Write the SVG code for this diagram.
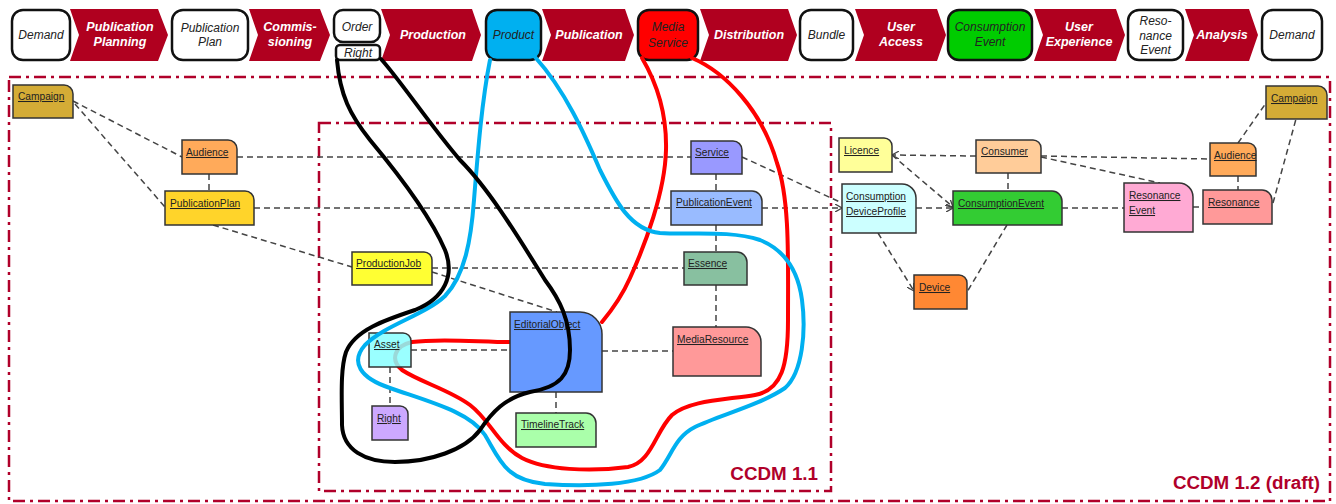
<svg xmlns="http://www.w3.org/2000/svg" width="1336" height="504" viewBox="0 0 1336 504">
<style>
.bg{fill:#ffffff}
.frame{fill:none;stroke:#B0002A;stroke-width:2.5;stroke-dasharray:12 5 3 5}
.arrow{fill:#B0001F}
.atxt{font-family:"Liberation Sans",Arial,sans-serif;font-size:12.5px;font-weight:bold;font-style:italic;fill:#ffffff;text-anchor:middle}
.box{stroke:#111111;stroke-width:2.5}
.btxt{font-family:"Liberation Sans",Arial,sans-serif;font-size:12px;font-style:italic;fill:#222222;text-anchor:middle}
.conn{fill:none;stroke:#444444;stroke-width:1.5;stroke-dasharray:6 4}
.node{stroke:#333333;stroke-width:1.5}
.ntxt{font-family:"Liberation Sans",Arial,sans-serif;font-size:10.2px;fill:#222222;text-decoration:underline}
.curve{fill:none;stroke-width:4;stroke-linecap:round;stroke-linejoin:round}
.label{font-family:"Liberation Sans",Arial,sans-serif;font-size:18.8px;font-weight:bold;fill:#B0002A;text-anchor:end}
</style>
<defs>
<marker id="open" viewBox="0 0 8 8" refX="7" refY="4" markerWidth="8" markerHeight="8" markerUnits="userSpaceOnUse" orient="auto">
<path d="M0,0 L7,4 L0,8" fill="none" stroke="#444444" stroke-width="1.3"/>
</marker>
</defs>
<rect class="bg" x="0" y="0" width="1336" height="504"/>

<g id="frames">
<rect class="frame" x="9" y="77" width="1321" height="424"/>
<rect class="frame" x="319" y="123" width="512" height="368"/>
</g>

<g id="process-bar">
<g id="step-publication-planning"><polygon class="arrow" points="70,9 158,9 168,35 158,61 70,61 79,35"/><text class="atxt" x="120" y="31">Publication</text><text class="atxt" x="120" y="46">Planning</text></g>
<g id="step-commissioning"><polygon class="arrow" points="249,9 320,9 330,35 320,61 249,61 258,35"/><text class="atxt" x="290" y="31">Commis-</text><text class="atxt" x="290" y="46">sioning</text></g>
<g id="step-production"><polygon class="arrow" points="381,9 472,9 481,35 472,61 381,61 390,35"/><text class="atxt" x="433" y="39">Production</text></g>
<g id="step-publication"><polygon class="arrow" points="542,9 625,9 634,35 625,61 542,61 551,35"/><text class="atxt" x="589" y="39">Publication</text></g>
<g id="step-distribution"><polygon class="arrow" points="700,9 788,9 797,35 788,61 700,61 709,35"/><text class="atxt" x="749" y="39">Distribution</text></g>
<g id="step-user-access"><polygon class="arrow" points="855,9 937,9 946,35 937,61 855,61 864,35"/><text class="atxt" x="901" y="31">User</text><text class="atxt" x="901" y="46">Access</text></g>
<g id="step-user-experience"><polygon class="arrow" points="1034,9 1116,9 1125,35 1116,61 1034,61 1043,35"/><text class="atxt" x="1079" y="31">User</text><text class="atxt" x="1079" y="46">Experience</text></g>
<g id="step-analysis"><polygon class="arrow" points="1185,9 1249,9 1258,35 1249,61 1185,61 1194,35"/><text class="atxt" x="1222" y="39">Analysis</text></g>

<g id="obj-demand-1"><rect class="box" x="12" y="10" width="58" height="50" rx="11" fill="#ffffff"/><text class="btxt" x="41" y="39">Demand</text></g>
<g id="obj-publication-plan"><rect class="box" x="172" y="10" width="76" height="50" rx="11" fill="#ffffff"/><text class="btxt" x="210" y="32">Publication</text><text class="btxt" x="210" y="46">Plan</text></g>
<g id="obj-order"><rect class="box" x="334" y="10" width="46" height="32" rx="9" fill="#ffffff"/><text class="btxt" x="357" y="31">Order</text></g>
<g id="obj-right"><rect class="box" x="336" y="45" width="44" height="15" rx="4" fill="#ffffff" stroke-width="2"/><text class="btxt" x="358" y="57">Right</text></g>
<g id="obj-product"><rect class="box" x="486" y="10" width="55" height="50" rx="11" fill="#00B0F0"/><text class="btxt" x="513.5" y="39">Product</text></g>
<g id="obj-media-service"><rect class="box" x="638" y="10" width="60" height="50" rx="11" fill="#FF0000"/><text class="btxt" x="668" y="31">Media</text><text class="btxt" x="668" y="47">Service</text></g>
<g id="obj-bundle"><rect class="box" x="800" y="10" width="53" height="50" rx="11" fill="#ffffff"/><text class="btxt" x="826.5" y="39">Bundle</text></g>
<g id="obj-consumption-event"><rect class="box" x="948" y="10" width="84" height="50" rx="11" fill="#00CC00"/><text class="btxt" x="990" y="31">Consumption</text><text class="btxt" x="990" y="46">Event</text></g>
<g id="obj-resonance-event"><rect class="box" x="1128" y="10" width="55" height="50" rx="11" fill="#ffffff"/><text class="btxt" x="1155.5" y="25" fill="#444444">Reso-</text><text class="btxt" x="1155.5" y="39.5" fill="#444444">nance</text><text class="btxt" x="1155.5" y="54" fill="#444444">Event</text></g>
<g id="obj-demand-2"><rect class="box" x="1262" y="10" width="60" height="50" rx="11" fill="#ffffff"/><text class="btxt" x="1292" y="39">Demand</text></g>
</g>

<g id="connectors">
<line class="conn" x1="73" y1="101" x2="182" y2="157"/>
<line class="conn" x1="75" y1="104" x2="165" y2="207"/>
<line class="conn" x1="209" y1="174" x2="209" y2="191"/>
<line class="conn" x1="237" y1="157" x2="691" y2="157"/>
<line class="conn" x1="254" y1="208" x2="671" y2="208"/>
<line class="conn" x1="762" y1="208" x2="842" y2="208" marker-end="url(#open)"/>
<line class="conn" x1="213" y1="225" x2="352" y2="267"/>
<line class="conn" x1="432" y1="272" x2="557" y2="312"/>
<line class="conn" x1="432" y1="268" x2="684" y2="268"/>
<line class="conn" x1="716" y1="174" x2="716" y2="191"/>
<line class="conn" x1="716" y1="225" x2="716" y2="252"/>
<line class="conn" x1="716" y1="285" x2="716" y2="327"/>
<line class="conn" x1="602" y1="351" x2="673" y2="351"/>
<line class="conn" x1="411" y1="350" x2="510" y2="350"/>
<line class="conn" x1="390" y1="367" x2="390" y2="406"/>
<line class="conn" x1="556" y1="392" x2="556" y2="413"/>
<line class="conn" x1="742" y1="157" x2="842" y2="203"/>
<line class="conn" x1="976" y1="156" x2="892" y2="155" marker-end="url(#open)"/>
<line class="conn" x1="892" y1="155" x2="953" y2="207" marker-end="url(#open)"/>
<line class="conn" x1="916" y1="208" x2="953" y2="208" marker-end="url(#open)"/>
<line class="conn" x1="1008" y1="173" x2="1008" y2="191"/>
<line class="conn" x1="1041" y1="156" x2="1210" y2="159"/>
<line class="conn" x1="1041" y1="157" x2="1160" y2="183"/>
<line class="conn" x1="1062" y1="208" x2="1124" y2="208"/>
<line class="conn" x1="1193" y1="207" x2="1203" y2="207"/>
<line class="conn" x1="1238" y1="176" x2="1238" y2="190"/>
<line class="conn" x1="1238" y1="143" x2="1266" y2="103"/>
<line class="conn" x1="1273" y1="203" x2="1296" y2="119"/>
<line class="conn" x1="878" y1="233" x2="914" y2="291" marker-end="url(#open)"/>
<line class="conn" x1="1007" y1="225" x2="967" y2="292"/>
</g>

<g id="media-service-scope">
<path class="curve" stroke="#FF0000" d="M642,58 C655,80 667,110 666,150 C665,192 645,245 630,278 C622,296 612,310 602,322"/>
<path class="curve" stroke="#FF0000" d="M692,58 C725,72 762,110 777,163 C790,200 788,260 788,320 C788,365 782,390 755,395 C725,400 690,400 672,415 C655,432 652,462 628,467 C590,472 545,470 522,458 C498,445 490,420 470,405 C450,390 420,382 402,370 C390,360 394,346 412,342 C440,338 480,342 510,342"/>
</g>

<g id="nodes">
<g id="n-campaign-1"><path class="node" fill="#D4AC36" d="M13,85 H64 A9,9 0 0 1 73,94 V118 H13 Z"/><text class="ntxt" x="18" y="100">Campaign</text></g>
<g id="n-audience-1"><path class="node" fill="#FFAA5A" d="M182,140 H228 A9,9 0 0 1 237,149 V174 H182 Z"/><text class="ntxt" x="186" y="156">Audience</text></g>
<g id="n-publicationplan"><path class="node" fill="#FFD42A" d="M165,191 H245 A9,9 0 0 1 254,200 V225 H165 Z"/><text class="ntxt" x="170" y="207">PublicationPlan</text></g>
<g id="n-service"><path class="node" fill="#9999FF" d="M691,141 H733 A9,9 0 0 1 742,150 V174 H691 Z"/><text class="ntxt" x="695" y="156">Service</text></g>
<g id="n-publicationevent"><path class="node" fill="#99BBFF" d="M671,191 H752 A10,10 0 0 1 762,201 V225 H671 Z"/><text class="ntxt" x="676" y="206">PublicationEvent</text></g>
<g id="n-productionjob"><path class="node" fill="#FFFF33" d="M352,252 H424 A8,8 0 0 1 432,260 V285 H352 Z"/><text class="ntxt" x="356" y="267">ProductionJob</text></g>
<g id="n-essence"><path class="node" fill="#88C0A0" d="M684,252 H737 A10,10 0 0 1 747,262 V285 H684 Z"/><text class="ntxt" x="688" y="267">Essence</text></g>
<g id="n-editorialobject"><path class="node" fill="#6699FF" d="M510,312 H580 A22,22 0 0 1 602,334 V392 H510 Z"/><text class="ntxt" x="514" y="328">EditorialObject</text></g>
<g id="n-asset"><path class="node" fill="#88FFFF" fill-opacity="0.85" d="M369,333 H403 A8,8 0 0 1 411,341 V367 H369 Z"/><text class="ntxt" x="374" y="348">Asset</text></g>
<g id="n-right"><path class="node" fill="#CCA8FF" d="M372,406 H400 A8,8 0 0 1 408,414 V440 H372 Z"/><text class="ntxt" x="377" y="422">Right</text></g>
<g id="n-timelinetrack"><path class="node" fill="#AAFFAA" d="M516,413 H586 A10,10 0 0 1 596,423 V447 H516 Z"/><text class="ntxt" x="521" y="428">TimelineTrack</text></g>
<g id="n-mediaresource"><path class="node" fill="#FF9999" d="M673,327 H746 A15,15 0 0 1 761,342 V376 H673 Z"/><text class="ntxt" x="677" y="343">MediaResource</text></g>
<g id="n-licence"><path class="node" fill="#FFFF99" d="M839,138 H884 A8,8 0 0 1 892,146 V172 H839 Z"/><text class="ntxt" x="844" y="154">Licence</text></g>
<g id="n-consumer"><path class="node" fill="#FFCC99" d="M976,140 H1033 A8,8 0 0 1 1041,148 V173 H976 Z"/><text class="ntxt" x="981" y="155">Consumer</text></g>
<g id="n-consumptiondeviceprofile"><path class="node" fill="#CCFFFF" d="M842,184 H902 A14,14 0 0 1 916,198 V233 H842 Z"/><text class="ntxt" x="846" y="200">Consumption</text><text class="ntxt" x="846" y="215">DeviceProfile</text></g>
<g id="n-consumptionevent"><path class="node" fill="#33CC33" d="M953,191 H1052 A10,10 0 0 1 1062,201 V225 H953 Z"/><text class="ntxt" x="958" y="207">ConsumptionEvent</text></g>
<g id="n-resonanceevent"><path class="node" fill="#FFAAD4" d="M1124,183 H1179 A14,14 0 0 1 1193,197 V232 H1124 Z"/><text class="ntxt" x="1129" y="199">Resonance</text><text class="ntxt" x="1129" y="214">Event</text></g>
<g id="n-resonance"><path class="node" fill="#FF9999" d="M1203,190 H1262 A10,10 0 0 1 1272,200 V224 H1203 Z"/><text class="ntxt" x="1208" y="206">Resonance</text></g>
<g id="n-audience-2"><path class="node" fill="#FFAA5A" d="M1210,143 H1248 A8,8 0 0 1 1256,151 V176 H1210 Z"/><text class="ntxt" x="1214" y="159">Audience</text></g>
<g id="n-campaign-2"><path class="node" fill="#D4AC36" d="M1266,86 H1318 A9,9 0 0 1 1327,95 V119 H1266 Z"/><text class="ntxt" x="1271" y="102">Campaign</text></g>
<g id="n-device"><path class="node" fill="#FF8833" d="M914,275 H959 A8,8 0 0 1 967,283 V309 H914 Z"/><text class="ntxt" x="919" y="291">Device</text></g>
</g>

<g id="scope-curves">
<path id="product-scope" class="curve" stroke="#00B0F0" d="M490,60 C482,100 478,150 474,200 C471,240 465,275 445,296 C425,315 385,325 365,345 C350,362 360,378 390,388 C430,402 470,412 485,435 C500,460 505,480 545,484 C590,487 640,485 660,470 C672,455 675,437 695,427 C720,415 760,405 785,388 C803,372 806,330 802,300 C798,270 785,250 760,240 C730,230 690,235 660,233 C630,230 615,200 600,170 C585,135 565,90 535,57"/>
<path id="right-scope" class="curve" stroke="#000000" d="M337,60 C340,95 350,115 370,140 C395,170 430,215 445,250 C455,275 445,298 415,310 C385,320 355,330 346,352 C340,370 342,400 342,425 C343,450 365,462 395,462 C430,462 465,450 480,430 C492,412 505,398 530,392 C560,387 570,375 570,350 C570,320 560,300 545,280 C520,240 490,190 460,160 C430,125 400,80 381,59"/>
</g>

<g id="labels">
<text class="label" x="818" y="480">CCDM 1.1</text>
<text class="label" x="1320" y="489">CCDM 1.2 (draft)</text>
</g>
</svg>
